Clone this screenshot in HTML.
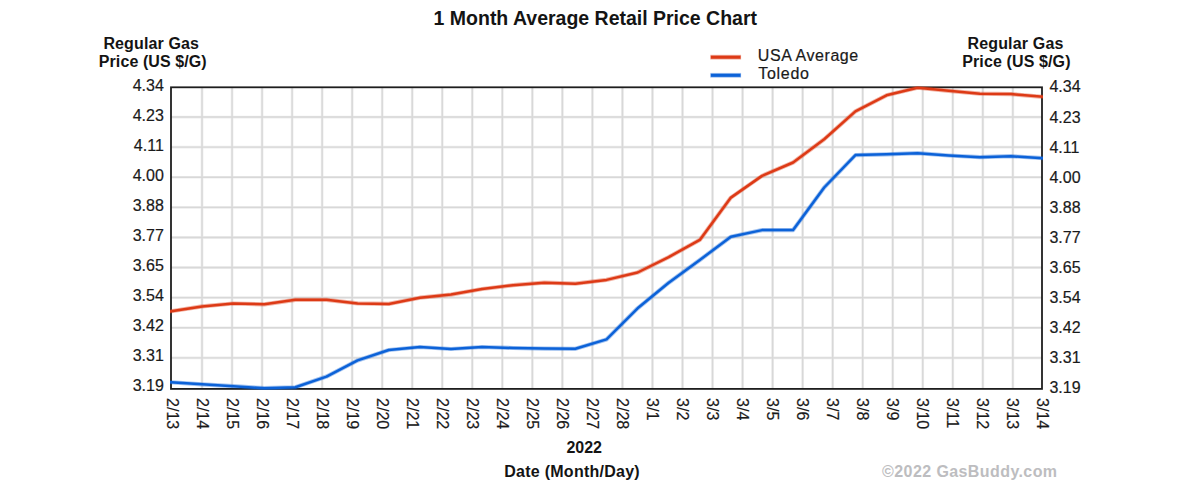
<!DOCTYPE html>
<html lang="en"><head><meta charset="utf-8"><title>1 Month Average Retail Price Chart</title>
<style>html,body{margin:0;padding:0;background:#fff}body{width:1189px;height:490px;overflow:hidden}svg{display:block}text{font-family:"Liberation Sans", Arial, Helvetica, sans-serif;}</style>
</head><body>
<svg width="1189" height="490" viewBox="0 0 1189 490">
<defs><clipPath id="plotclip"><rect x="170.0" y="86.3" width="873.0" height="303.6"/></clipPath></defs>
<rect x="0" y="0" width="1189" height="490" fill="#ffffff"/>
<g id="chart">
<path d="M202.03 87.3V388.9M232.06 87.3V388.9M262.09 87.3V388.9M292.12 87.3V388.9M322.15 87.3V388.9M352.18 87.3V388.9M382.21 87.3V388.9M412.24 87.3V388.9M442.27 87.3V388.9M472.30 87.3V388.9M502.33 87.3V388.9M532.36 87.3V388.9M562.39 87.3V388.9M592.42 87.3V388.9M622.45 87.3V388.9M652.48 87.3V388.9M682.51 87.3V388.9M712.54 87.3V388.9M742.57 87.3V388.9M772.60 87.3V388.9M802.63 87.3V388.9M832.66 87.3V388.9M862.69 87.3V388.9M892.72 87.3V388.9M922.75 87.3V388.9M952.78 87.3V388.9M982.81 87.3V388.9M1012.84 87.3V388.9M171.0 117.05H1042.0M171.0 147.15H1042.0M171.0 177.25H1042.0M171.0 207.35H1042.0M171.0 237.45H1042.0M171.0 267.55H1042.0M171.0 297.65H1042.0M171.0 327.75H1042.0M171.0 357.85H1042.0" fill="none" stroke="#ededed" stroke-width="2.7"/>
<path d="M202.03 87.3V388.9M232.06 87.3V388.9M262.09 87.3V388.9M292.12 87.3V388.9M322.15 87.3V388.9M352.18 87.3V388.9M382.21 87.3V388.9M412.24 87.3V388.9M442.27 87.3V388.9M472.30 87.3V388.9M502.33 87.3V388.9M532.36 87.3V388.9M562.39 87.3V388.9M592.42 87.3V388.9M622.45 87.3V388.9M652.48 87.3V388.9M682.51 87.3V388.9M712.54 87.3V388.9M742.57 87.3V388.9M772.60 87.3V388.9M802.63 87.3V388.9M832.66 87.3V388.9M862.69 87.3V388.9M892.72 87.3V388.9M922.75 87.3V388.9M952.78 87.3V388.9M982.81 87.3V388.9M1012.84 87.3V388.9M171.0 117.05H1042.0M171.0 147.15H1042.0M171.0 177.25H1042.0M171.0 207.35H1042.0M171.0 237.45H1042.0M171.0 267.55H1042.0M171.0 297.65H1042.0M171.0 327.75H1042.0M171.0 357.85H1042.0" fill="none" stroke="#d8d8d8" stroke-width="1.4"/>
<rect x="171.0" y="87.3" width="871.0" height="301.6" fill="none" stroke="#1e1e1e" stroke-width="1.8"/>
<g clip-path="url(#plotclip)" fill="none" stroke-linejoin="round" stroke-linecap="square">
<polyline stroke="#0c62d8" stroke-opacity="0.38" stroke-width="4.2" points="171.0,382.3 202.1,384.3 233.2,386.2 264.3,388.2 295.4,387.3 326.5,376.6 357.6,360.4 388.8,350.0 419.9,347.0 451.0,349.0 482.1,347.0 513.2,348.0 544.3,348.6 575.4,348.8 606.5,339.4 637.6,308.3 668.7,282.7 699.8,260.0 730.9,236.7 762.0,230.1 793.1,230.1 824.2,187.5 855.4,155.1 886.5,154.3 917.6,153.2 948.7,155.5 979.8,157.2 1010.9,156.2 1042.0,158.1"/>
<polyline stroke="#0c62d8" stroke-width="2.5" points="171.0,382.3 202.1,384.3 233.2,386.2 264.3,388.2 295.4,387.3 326.5,376.6 357.6,360.4 388.8,350.0 419.9,347.0 451.0,349.0 482.1,347.0 513.2,348.0 544.3,348.6 575.4,348.8 606.5,339.4 637.6,308.3 668.7,282.7 699.8,260.0 730.9,236.7 762.0,230.1 793.1,230.1 824.2,187.5 855.4,155.1 886.5,154.3 917.6,153.2 948.7,155.5 979.8,157.2 1010.9,156.2 1042.0,158.1"/>
<polyline stroke="#dd3a16" stroke-opacity="0.38" stroke-width="4.2" points="171.0,311.3 202.1,306.4 233.2,303.5 264.3,304.3 295.4,299.8 326.5,299.8 357.6,303.4 388.8,303.9 419.9,297.7 451.0,294.6 482.1,289.0 513.2,285.2 544.3,282.7 575.4,283.7 606.5,279.9 637.6,272.5 668.7,257.1 699.8,239.9 730.9,197.6 762.0,175.9 793.1,162.5 824.2,139.3 855.4,111.4 886.5,95.3 917.6,87.7 948.7,90.8 979.8,93.7 1010.9,94.1 1042.0,96.7"/>
<polyline stroke="#dd3a16" stroke-width="2.5" points="171.0,311.3 202.1,306.4 233.2,303.5 264.3,304.3 295.4,299.8 326.5,299.8 357.6,303.4 388.8,303.9 419.9,297.7 451.0,294.6 482.1,289.0 513.2,285.2 544.3,282.7 575.4,283.7 606.5,279.9 637.6,272.5 668.7,257.1 699.8,239.9 730.9,197.6 762.0,175.9 793.1,162.5 824.2,139.3 855.4,111.4 886.5,95.3 917.6,87.7 948.7,90.8 979.8,93.7 1010.9,94.1 1042.0,96.7"/>
</g>
<line x1="710.3" y1="57.2" x2="741.1" y2="57.2" stroke="#dd3a16" stroke-opacity="0.38" stroke-width="4.8"/>
<line x1="710.8" y1="57.2" x2="740.6" y2="57.2" stroke="#dd3a16" stroke-width="3.1"/>
<line x1="710.3" y1="75.3" x2="741.1" y2="75.3" stroke="#0c62d8" stroke-opacity="0.38" stroke-width="4.8"/>
<line x1="710.8" y1="75.3" x2="740.6" y2="75.3" stroke="#0c62d8" stroke-width="3.1"/>
<g font-size="16" fill="#1a1a1a" stroke="#1a1a1a" stroke-width="0.2">
<text x="757.8" y="60.9" textLength="100.4" lengthAdjust="spacing">USA Average</text>
<text x="758.3" y="78.7" textLength="50.6" lengthAdjust="spacing">Toledo</text>
<text x="163.8" y="90.7" text-anchor="end">4.34</text>
<text x="1049.4" y="92.4">4.34</text>
<text x="163.8" y="120.8" text-anchor="end">4.23</text>
<text x="1049.4" y="122.5">4.23</text>
<text x="163.8" y="150.8" text-anchor="end">4.11</text>
<text x="1049.4" y="152.5">4.11</text>
<text x="163.8" y="180.9" text-anchor="end">4.00</text>
<text x="1049.4" y="182.6">4.00</text>
<text x="163.8" y="211.0" text-anchor="end">3.88</text>
<text x="1049.4" y="212.7">3.88</text>
<text x="163.8" y="241.1" text-anchor="end">3.77</text>
<text x="1049.4" y="242.8">3.77</text>
<text x="163.8" y="271.1" text-anchor="end">3.65</text>
<text x="1049.4" y="272.8">3.65</text>
<text x="163.8" y="301.2" text-anchor="end">3.54</text>
<text x="1049.4" y="302.9">3.54</text>
<text x="163.8" y="331.3" text-anchor="end">3.42</text>
<text x="1049.4" y="333.0">3.42</text>
<text x="163.8" y="361.3" text-anchor="end">3.31</text>
<text x="1049.4" y="363.0">3.31</text>
<text x="163.8" y="391.4" text-anchor="end">3.19</text>
<text x="1049.4" y="393.1">3.19</text>
<text transform="translate(166.70 398.1) rotate(90)">2/13</text>
<text transform="translate(196.70 398.1) rotate(90)">2/14</text>
<text transform="translate(226.70 398.1) rotate(90)">2/15</text>
<text transform="translate(256.70 398.1) rotate(90)">2/16</text>
<text transform="translate(286.70 398.1) rotate(90)">2/17</text>
<text transform="translate(316.70 398.1) rotate(90)">2/18</text>
<text transform="translate(346.70 398.1) rotate(90)">2/19</text>
<text transform="translate(376.70 398.1) rotate(90)">2/20</text>
<text transform="translate(406.70 398.1) rotate(90)">2/21</text>
<text transform="translate(436.70 398.1) rotate(90)">2/22</text>
<text transform="translate(466.70 398.1) rotate(90)">2/23</text>
<text transform="translate(496.70 398.1) rotate(90)">2/24</text>
<text transform="translate(526.70 398.1) rotate(90)">2/25</text>
<text transform="translate(556.70 398.1) rotate(90)">2/26</text>
<text transform="translate(586.70 398.1) rotate(90)">2/27</text>
<text transform="translate(616.70 398.1) rotate(90)">2/28</text>
<text transform="translate(646.70 398.1) rotate(90)">3/1</text>
<text transform="translate(676.70 398.1) rotate(90)">3/2</text>
<text transform="translate(706.70 398.1) rotate(90)">3/3</text>
<text transform="translate(736.70 398.1) rotate(90)">3/4</text>
<text transform="translate(766.70 398.1) rotate(90)">3/5</text>
<text transform="translate(796.70 398.1) rotate(90)">3/6</text>
<text transform="translate(826.70 398.1) rotate(90)">3/7</text>
<text transform="translate(856.70 398.1) rotate(90)">3/8</text>
<text transform="translate(886.70 398.1) rotate(90)">3/9</text>
<text transform="translate(916.70 398.1) rotate(90)">3/10</text>
<text transform="translate(946.70 398.1) rotate(90)">3/11</text>
<text transform="translate(976.70 398.1) rotate(90)">3/12</text>
<text transform="translate(1006.70 398.1) rotate(90)">3/13</text>
<text transform="translate(1036.70 398.1) rotate(90)">3/14</text>
</g>
<g font-weight="bold" fill="#141414">
<text x="433.6" y="24.7" font-size="19.5" textLength="323.4" lengthAdjust="spacing">1 Month Average Retail Price Chart</text>
<g font-size="16">
<text x="103.4" y="48.8" textLength="95.6" lengthAdjust="spacing">Regular Gas</text>
<text x="98.8" y="66.7" textLength="107.8" lengthAdjust="spacing">Price (US $/G)</text>
<text x="967.4" y="48.7" textLength="96" lengthAdjust="spacing">Regular Gas</text>
<text x="962.2" y="66.6" textLength="108.3" lengthAdjust="spacing">Price (US $/G)</text>
<text x="566.5" y="452.7" textLength="35.4" lengthAdjust="spacing">2022</text>
<text x="504.3" y="476.8" textLength="135.4" lengthAdjust="spacing">Date (Month/Day)</text>
<text x="882.1" y="476.6" textLength="175" lengthAdjust="spacing" fill="#bdbdc0">©2022 GasBuddy.com</text>
</g></g>
</g>
</svg>
</body></html>
